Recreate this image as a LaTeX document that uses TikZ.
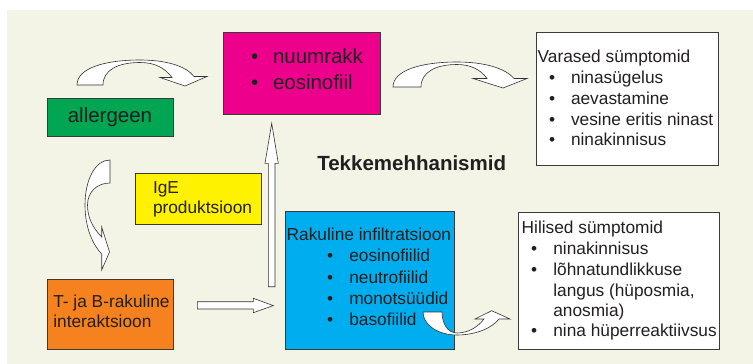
\documentclass[tikz,border=0pt]{standalone}
\usepackage{fontspec}
\setmainfont{Liberation Sans}
\definecolor{bgcol}{HTML}{F3F3E6}
\definecolor{boxline}{HTML}{3A3A3A}
\definecolor{arrline}{HTML}{333333}
\definecolor{txtcol}{HTML}{231F20}
\definecolor{magentaC}{HTML}{EC008C}
\definecolor{greenC}{HTML}{00A651}
\definecolor{yellowC}{HTML}{FFF200}
\definecolor{blueC}{HTML}{00AEEF}
\definecolor{orangeC}{HTML}{F5821F}
\begin{document}
\begin{tikzpicture}[x=1pt,y=-1pt,
  box/.style={draw=boxline, line width=0.8pt, anchor=north west, inner sep=0pt, outer sep=0pt},
  txt/.style={anchor=base west, inner sep=0pt, outer sep=0pt, text=txtcol, font=\fontsize{17.3}{20.8}\selectfont},
  bigtxt/.style={txt, font=\fontsize{20.5}{26}\selectfont},
  blockarrow/.style={fill=white, draw=arrline, line width=0.6pt, line join=miter}
]
\useasboundingbox (0,0) rectangle (753,364);
\fill[bgcol] (7,10) rectangle (753,364);

% boxes
\node[box, fill=magentaC, minimum width=157pt, minimum height=82pt] (mast) at (223,32) {};
\node[box, fill=white, minimum width=182pt, minimum height=133pt] (early) at (536,32) {};
\node[box, fill=greenC, minimum width=126pt, minimum height=38pt] (allerg) at (47,98) {};
\node[box, fill=yellowC, minimum width=126pt, minimum height=51pt] (ige) at (135,173) {};
\node[box, fill=blueC, minimum width=169pt, minimum height=138pt] (infil) at (285,211) {};
\node[box, fill=white, minimum width=201pt, minimum height=137pt] (late) at (518,212) {};
\node[box, fill=orangeC, minimum width=126pt, minimum height=70pt] (tb) at (47,279) {};

% texts
\node[bigtxt, anchor=base] (allergT) at (110,122.7) {allergeen};
\node[bigtxt] (m1b) at (251,63.3) {•};
\node[bigtxt] (m1) at (273,63.3) {nuumrakk};
\node[bigtxt] (m2b) at (251,89.3) {•};
\node[bigtxt] (m2) at (273,89.3) {eosinofiil};

\node[anchor=base, inner sep=0pt, text=txtcol, font=\bfseries\fontsize{20.5}{24}\selectfont] (title) at (411.7,170) {Tekkemehhanismid};

\node[txt] (e0) at (537.7,62.7) {Varased sümptomid};
\node[txt] (e1b) at (549,83.5) {•};
\node[txt] (e1) at (571,83.5) {ninasügelus};
\node[txt] (e2b) at (549,104.3) {•};
\node[txt] (e2) at (571,104.3) {aevastamine};
\node[txt] (e3b) at (549,125) {•};
\node[txt] (e3) at (571,125) {vesine eritis ninast};
\node[txt] (e4b) at (549,145.8) {•};
\node[txt] (e4) at (571,145.8) {ninakinnisus};

\node[txt] (i1) at (153,193) {IgE};
\node[txt] (i2) at (153,213.3) {produktsioon};

\node[txt] (t1) at (53.3,307.7) {T- ja B-rakuline};
\node[txt] (t2) at (53.3,327.3) {interaktsioon};

\node[txt] (r0) at (286.7,240) {Rakuline infiltratsioon};
\node[txt] (r1b) at (327,261.7) {•};
\node[txt] (r1) at (349.3,261.7) {eosinofiilid};
\node[txt] (r2b) at (327,283.3) {•};
\node[txt] (r2) at (349.3,283.3) {neutrofiilid};
\node[txt] (r3b) at (327,304) {•};
\node[txt] (r3) at (349.3,304) {monotsüüdid};
\node[txt] (r4b) at (327,325) {•};
\node[txt] (r4) at (349.3,325) {basofiilid};

\node[txt] (h0) at (521.7,233.3) {Hilised sümptomid};
\node[txt] (h1b) at (531,254) {•};
\node[txt] (h1) at (553.3,254) {ninakinnisus};
\node[txt] (h2b) at (531,275) {•};
\node[txt] (h2) at (553.3,275) {lõhnatundlikkuse};
\node[txt] (h2c) at (553.3,296) {langus (hüposmia,};
\node[txt] (h2d) at (553.3,316.7) {anosmia)};
\node[txt] (h3b) at (531,336.7) {•};
\node[txt] (h3) at (553.3,336.7) {nina hüperreaktiivsus};

% straight block arrows
\draw[blockarrow] (268.3,286.7) -- (268.3,163.3) -- (265,163.3) -- (271.7,123.3) -- (278.3,163.3) -- (275,163.3) -- (275,286.7) -- cycle;
\draw[blockarrow] (197.3,301.7) -- (253.3,301.7) -- (253.3,298.3) -- (273.3,305.6) -- (253.3,312.7) -- (253.3,309) -- (197.3,309) -- cycle;

% curved block arrows
\draw[blockarrow] (77,85) .. controls (77,68) and (105,60) .. (140,60) .. controls (166,60) and (186,66) .. (194,76.5) -- (207,76.5) -- (185,86) -- (160,77.5) -- (172,77.5) .. controls (165,68) and (155,62.5) .. (140,62.5) .. controls (118,62.5) and (103,70) .. (103,85) -- cycle;
\draw[blockarrow] (393,87) .. controls (393,70) and (422,62) .. (457,62) .. controls (484,62) and (505,68) .. (514,78.5) -- (527,78.5) -- (503,88) -- (473,78.5) -- (487,78.5) .. controls (481,70) and (471,64.5) .. (457,64.5) .. controls (436,64.5) and (421,72) .. (421,87) -- cycle;
\draw[blockarrow] (110,160) .. controls (95,160) and (85,180) .. (85,205) .. controls (85,228) and (93,245) .. (101.7,254) -- (101.7,270) -- (109.5,252) -- (101.7,227) -- (101.7,237) .. controls (93,228) and (87.5,218) .. (87.5,205) .. controls (87.5,192) and (97,183) .. (110,183) -- cycle;
\draw[blockarrow] (423,312) .. controls (423,325) and (438,335) .. (457,335) .. controls (476,335) and (492,328) .. (499,319) -- (510,319) -- (491.7,310.7) -- (475,319) -- (484,319) .. controls (478,327) and (468,333) .. (457,333) .. controls (448,333) and (442,324) .. (442,312) -- cycle;
\end{tikzpicture}
\end{document}
